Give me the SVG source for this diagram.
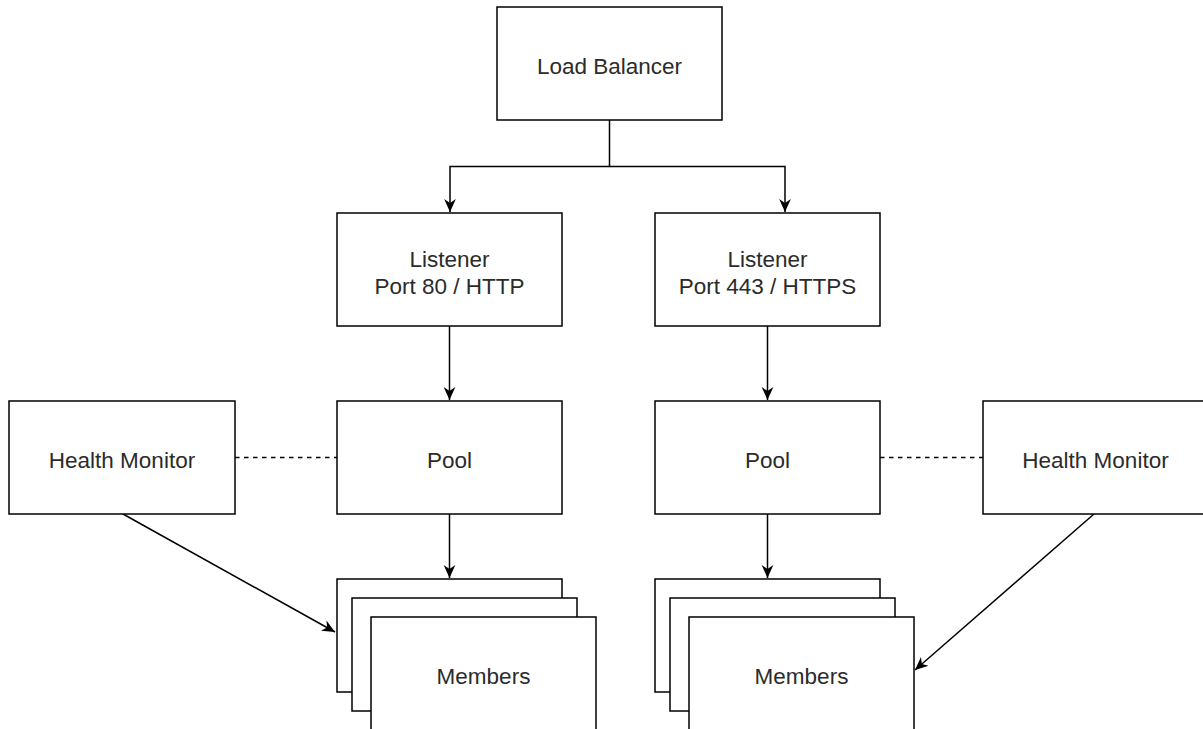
<svg xmlns="http://www.w3.org/2000/svg" width="1203" height="729" viewBox="0 0 1203 729">
<style>
.box{fill:#fff;stroke:#000;stroke-width:1.5}
.lbl{font-family:"Liberation Sans",Arial,sans-serif;font-size:22.5px;fill:#2b2b2b;text-anchor:middle}
.edge{fill:none;stroke:#000;stroke-width:1.5}
.dash{fill:none;stroke:#000;stroke-width:1.5;stroke-dasharray:4.5 4.5}
</style>
<defs>
<marker id="arr" viewBox="0 0 10 10" refX="10" refY="5" markerWidth="13" markerHeight="13" markerUnits="userSpaceOnUse" orient="auto">
<path d="M0,0.5 L10,5 L0,9.5 L3,5 z" fill="#000"/>
</marker>
</defs>
<rect width="1203" height="729" fill="#fff"/>
<g id="connectors">
<path class="edge" d="M609.5,120 V166.5 H450 V212" marker-end="url(#arr)"/>
<path class="edge" d="M609.5,166.5 H785 V212" marker-end="url(#arr)"/>
<path class="edge" d="M449.5,326 V400" marker-end="url(#arr)"/>
<path class="edge" d="M767.5,326 V400" marker-end="url(#arr)"/>
<path class="edge" d="M449.5,514 V578" marker-end="url(#arr)"/>
<path class="edge" d="M767.5,514 V578" marker-end="url(#arr)"/>
<path class="dash" d="M235,457.5 H337"/>
<path class="dash" d="M880,457.5 H983"/>
<path class="edge" d="M123,514 L335,632" marker-end="url(#arr)"/>
<path class="edge" d="M1094,514 L915,670" marker-end="url(#arr)"/>
</g>
<g id="load-balancer">
<rect class="box" x="497" y="7" width="225" height="113"/>
<text class="lbl" x="609.5" y="74">Load Balancer</text>
</g>
<g id="listener-http">
<rect class="box" x="337" y="213" width="225" height="113"/>
<text class="lbl" x="449.5" y="266.5">Listener</text>
<text class="lbl" x="449.5" y="293.5">Port 80 / HTTP</text>
</g>
<g id="listener-https">
<rect class="box" x="655" y="213" width="225" height="113"/>
<text class="lbl" x="767.5" y="266.5">Listener</text>
<text class="lbl" x="767.5" y="293.5">Port 443 / HTTPS</text>
</g>
<g id="pool-left">
<rect class="box" x="337" y="401" width="225" height="113"/>
<text class="lbl" x="449.5" y="468">Pool</text>
</g>
<g id="pool-right">
<rect class="box" x="655" y="401" width="225" height="113"/>
<text class="lbl" x="767.5" y="468">Pool</text>
</g>
<g id="health-monitor-left">
<rect class="box" x="9" y="401" width="226" height="113"/>
<text class="lbl" x="122" y="468">Health Monitor</text>
</g>
<g id="health-monitor-right">
<rect class="box" x="983" y="401" width="225" height="113"/>
<text class="lbl" x="1095.5" y="468">Health Monitor</text>
</g>
<g id="members-left">
<rect class="box" x="337" y="579" width="225" height="113"/>
<rect class="box" x="352" y="598" width="225" height="113"/>
<rect class="box" x="371" y="617" width="225" height="113"/>
<text class="lbl" x="483.5" y="684">Members</text>
</g>
<g id="members-right">
<rect class="box" x="655" y="579" width="225" height="113"/>
<rect class="box" x="670" y="598" width="225" height="113"/>
<rect class="box" x="689" y="617" width="225" height="113"/>
<text class="lbl" x="801.5" y="684">Members</text>
</g>
</svg>
